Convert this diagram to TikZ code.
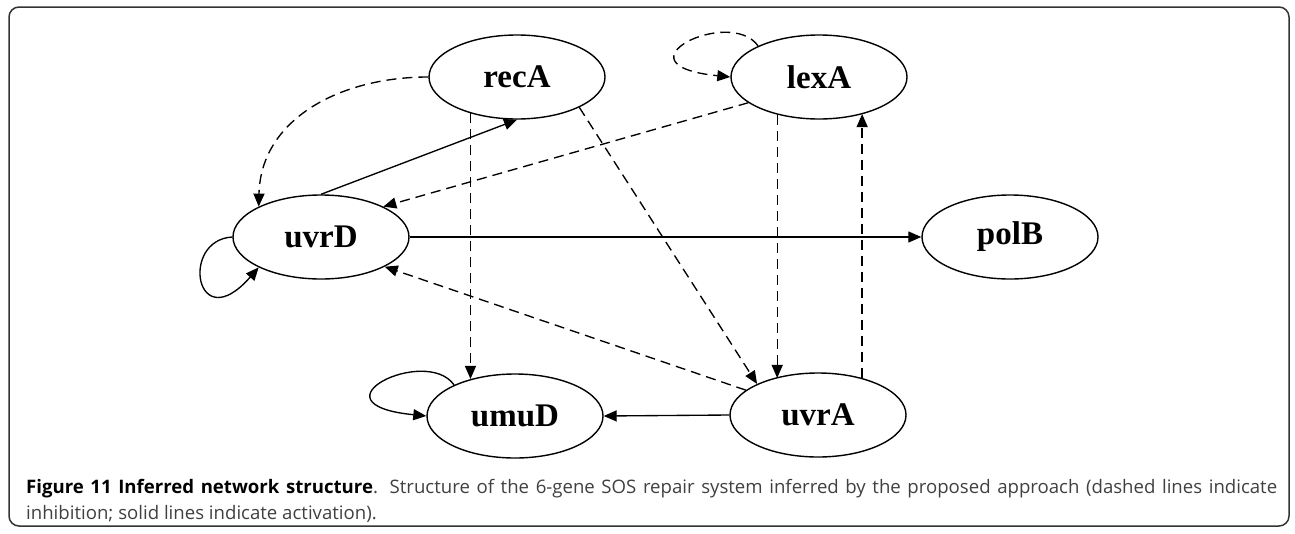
\documentclass[tikz,border=0pt]{standalone}
\usepackage{fontspec}
\setmainfont{Liberation Serif}
\newfontfamily\capfont{Open Sans}
\usetikzlibrary{shapes.geometric,arrows.meta,calc}
\tikzset{
  gene/.style={ellipse, draw=black, line width=1.4pt, minimum width=176pt,
    minimum height=84pt, inner sep=0pt, font=\fontsize{33}{33}\selectfont\bfseries},
  edge/.style={line width=1.35pt, -{Triangle[length=13pt,width=11pt]}},
  inhib/.style={edge, dash pattern=on 10pt off 6pt},
  frame/.style={draw=black!80, line width=1.5pt, rounded corners=10pt}
}
\begin{document}
\begin{tikzpicture}[x=1pt,y=-1pt]
\useasboundingbox (0,0) rectangle (1295,533);
\draw[frame] (9,7) rectangle (1289,526);

% genes
\node[gene] (recA) at (517,77)  {recA};
\node[gene] (lexA) at (819,77)  {lexA};
\node[gene] (uvrD) at (321,237) {uvrD};
\node[gene] (polB) at (1010,237) {polB};
\node[gene] (umuD) at (515,416) {umuD};
\node[gene] (uvrA) at (818,415) {uvrA};

% activation (solid)
\draw[edge] (uvrD.north) -- (recA.south);
\draw[edge] (uvrD.east) -- (polB.west);
\draw[edge] (uvrA.west) -- (umuD.east);
\draw[edge] (uvrD.west) .. controls +(-53,3) and +(-63,72) .. (uvrD.206);
\draw[edge] (umuD.153) .. controls +(-28,-40) and +(-120,-12) .. (umuD.west);

% inhibition (dashed)
\draw[inhib] (recA.west) .. controls +(-89,0) and +(2,-87) .. (uvrD.154);
\draw[inhib] (lexA.200) -- (uvrD.26);
\draw[inhib] (uvrA.161) -- (uvrD.-25);
\draw[inhib] (recA.-26) -- (uvrA.153);
\draw[inhib] (recA.218) -- (recA.218 |- umuD.140);
\draw[inhib] (lexA.222) -- (lexA.222 |- uvrA.140);
\draw[inhib] (uvrA.40) -- (uvrA.40 |- lexA.-40);
\draw[inhib] (lexA.153) .. controls +(-28,-40) and +(-120,-12) .. (lexA.west);

% caption
\node[anchor=base west, inner sep=0pt, text width=1251pt, align=justify,
      font=\capfont\fontsize{18.6}{26}\selectfont, text=black!75] (cap) at (26,493)
  {\hyphenpenalty=10000\textcolor{black}{\bfseries Figure 11 Inferred network structure}. Structure of the 6-gene SOS repair system inferred by the proposed approach (dashed lines indicate\linebreak inhibition; solid lines indicate activation).};
\end{tikzpicture}
\end{document}
